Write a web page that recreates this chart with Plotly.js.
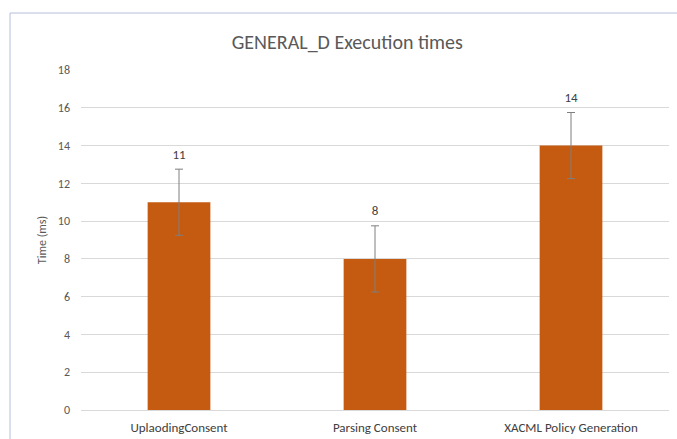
<!DOCTYPE html>
<html><head><meta charset="utf-8">
<script src="https://cdn.plot.ly/plotly-3.0.1.min.js"></script>
<style>html,body{margin:0;padding:0;background:#fff}#c{width:677px;height:439px}</style>
</head><body><div id="c"></div>
<script>
var categories = ["UplaodingConsent", "Parsing Consent", "XACML Policy Generation"];
var times = [11, 8, 14];
var errors = [1.75, 1.75, 1.75];
var labels = ["11", "8", "14"];
var yTicks = [0, 2, 4, 6, 8, 10, 12, 14, 16, 18];

var font = "Carlito, 'Liberation Sans Narrow', 'DejaVu Sans Condensed', sans-serif";
var labelY = times.map(function(v, i){ return v + errors[i]; });

var data = [
  {type: "bar", x: categories, y: times,
   marker: {color: "#c55a11", line: {width: 0}},
   error_y: {type: "data", array: errors, visible: true, color: "#7f7f7f", thickness: 1, width: 4},
   hoverinfo: "none"},
  {type: "scatter", mode: "text+markers", x: categories, y: labelY, text: labels,
   marker: {size: 10, opacity: 0},
   textposition: "top center", textfont: {family: font, size: 13, color: "#404040"},
   hoverinfo: "none", cliponaxis: false}
];

var layout = {
  width: 677, height: 439,
  margin: {l: 81, r: 8, t: 70, b: 29},
  paper_bgcolor: "#ffffff", plot_bgcolor: "#ffffff",
  showlegend: false,
  bargap: 0.68,
  title: {text: "GENERAL_D Execution times", x: 0.513, xanchor: "center", y: 0.905, yanchor: "middle",
          font: {family: font, size: 20, color: "#595959"}},
  xaxis: {type: "category", showgrid: false, showline: false, zeroline: false, ticks: "",
          ticklabelstandoff: 8,
          tickfont: {family: font, size: 13, color: "#404040"}},
  yaxis: {range: [0, 18], tickvals: yTicks, ticktext: yTicks.map(String),
          showgrid: true, gridcolor: "#d9d9d9", gridwidth: 1, zeroline: true, zerolinecolor: "#d9d9d9",
          showline: false, ticks: "", ticklen: 0, ticklabelstandoff: 10,
          tickfont: {family: font, size: 12, color: "#595959"},
          title: {text: "Time (ms)", standoff: 8, font: {family: font, size: 12, color: "#595959"}}},
  shapes: [{type: "rect", xref: "paper", yref: "paper", x0: -0.1207, x1: 1.1, y0: -0.2, y1: 1.1676,
            line: {color: "#b4c0d8", width: 1}, fillcolor: "rgba(0,0,0,0)", layer: "below"}]
};

Plotly.newPlot("c", data, layout, {displayModeBar: false, staticPlot: true});
</script></body></html>
